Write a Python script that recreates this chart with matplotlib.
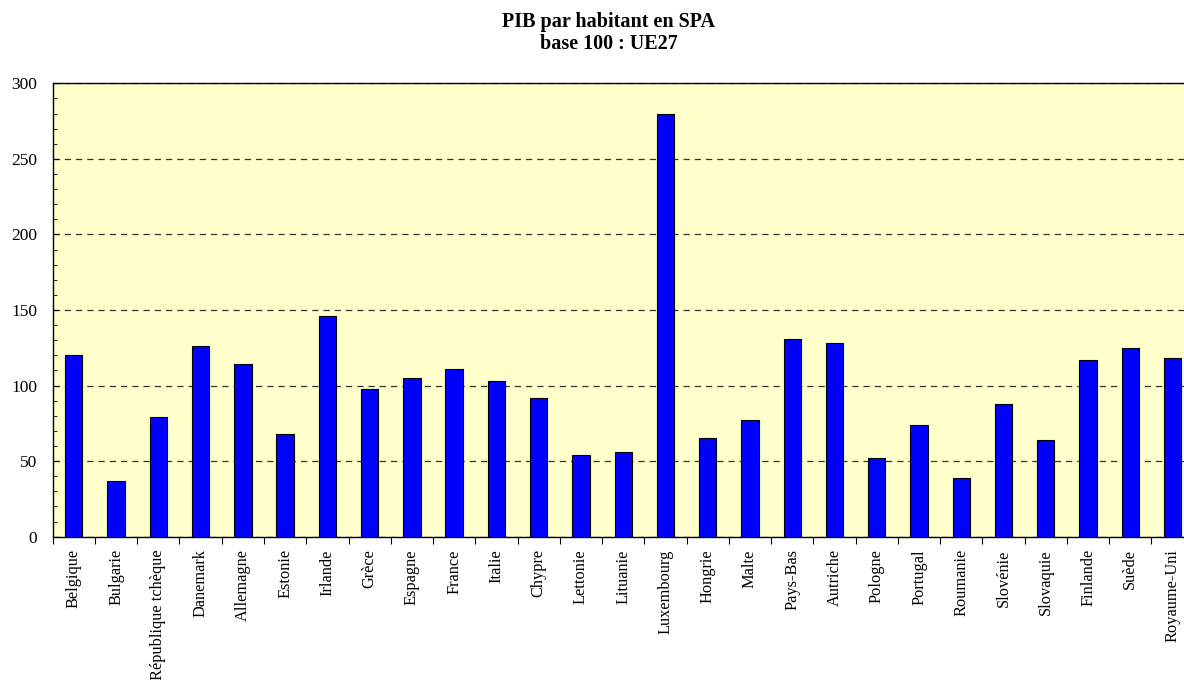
import numpy as np
from matplotlib import pyplot as plt
from matplotlib.ticker import MultipleLocator, FixedLocator

plt.rcParams['font.family'] = ['Liberation Serif', 'DejaVu Serif']

# PIB par habitant en SPA, base 100 : UE27
pays = ["Belgique", "Bulgarie", "République tchèque", "Danemark", "Allemagne",
        "Estonie", "Irlande", "Grèce", "Espagne", "France", "Italie", "Chypre",
        "Lettonie", "Lituanie", "Luxembourg", "Hongrie", "Malte", "Pays-Bas",
        "Autriche", "Pologne", "Portugal", "Roumanie", "Slovénie", "Slovaquie",
        "Finlande", "Suède", "Royaume-Uni"]
valeurs = [120, 37, 79, 126, 114, 68, 146, 97.5, 105, 111, 103, 92, 54, 56,
           280, 65, 77, 131, 128, 52, 74, 39, 88, 64, 117, 125, 118]

fig = plt.figure(figsize=(11.84, 6.8), dpi=100)
ax = fig.add_axes([0.0445, 0.2107, 0.9637, 0.6668])
ax.set_facecolor('#FFFFCC')

x = np.arange(len(pays))
ax.bar(x, valeurs, width=0.41, color='#0000FF', edgecolor='black',
       linewidth=0.8, zorder=3)

ax.set_xlim(-0.5, len(pays) - 0.5)
ax.set_ylim(0, 300)
ax.yaxis.set_major_locator(MultipleLocator(50))
ax.yaxis.set_minor_locator(MultipleLocator(10))
ax.tick_params(axis='y', which='both', direction='in', labelsize=12.5, pad=11)
ax.tick_params(axis='y', which='major', length=4)
ax.tick_params(axis='y', which='minor', length=3)
ax.grid(axis='y', which='major', linestyle=(0, (5, 4)), color='#333333',
        linewidth=0.9, zorder=1)

# categories between ticks
ax.xaxis.set_major_locator(FixedLocator(np.arange(len(pays) + 1) - 0.5))
ax.xaxis.set_minor_locator(FixedLocator(x))
ax.set_xticklabels([])
ax.set_xticklabels(pays, minor=True, rotation=90, fontsize=11.8, va='top')
ax.tick_params(axis='x', which='major', direction='out', length=5)
ax.tick_params(axis='x', which='minor', length=0, pad=9)

for s in ['left', 'bottom', 'top']:
    ax.spines[s].set_linewidth(1.0)
ax.spines['right'].set_visible(False)

fig.text(0.514, 0.968, "PIB par habitant en SPA", ha='center', va='center',
         fontsize=14.5, fontweight='bold')
fig.text(0.514, 0.936, "base 100 : UE27", ha='center', va='center',
         fontsize=14.5, fontweight='bold')

plt.savefig('out.png', dpi=100)
